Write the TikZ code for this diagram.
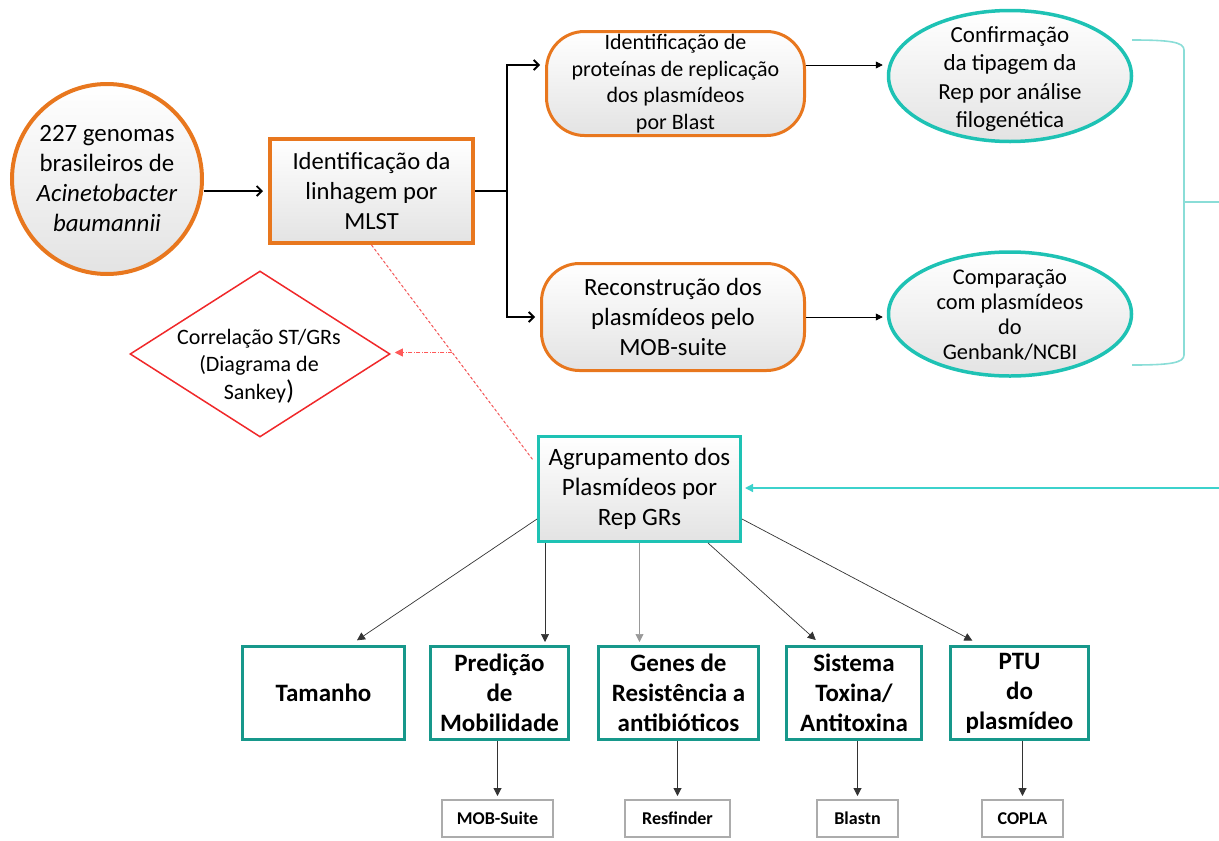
\documentclass[tikz,border=0pt]{standalone}
\usepackage{fontspec}
\setmainfont{Carlito}
\usetikzlibrary{shapes.geometric,arrows.meta,calc}

\definecolor{ocre}{HTML}{E8771E}
\definecolor{tealB}{HTML}{1EC2B4}
\definecolor{tealD}{HTML}{17988B}
\definecolor{tealL}{HTML}{8ADDD7}
\definecolor{cyanA}{HTML}{3CD2CC}
\definecolor{redD}{HTML}{F0282A}

\newcommand\myfs[2]{\fontsize{#1}{#2}\selectfont}

\begin{document}
\begin{tikzpicture}[x=1pt,y=-1pt,
  grad/.style={top color=white,bottom color=black!11},
  orangebox/.style={draw=ocre,line width=4pt,grad,inner sep=0pt,align=center},
  roundbox/.style={draw=ocre,line width=3pt,grad,rounded corners=38pt,inner sep=0pt,align=center},
  tealell/.style={ellipse,draw=tealB,line width=3.5pt,grad,inner sep=0pt},
  resultbox/.style={draw=tealD,line width=3pt,fill=white,inner sep=0pt,align=center,
    font=\myfs{25}{30}\bfseries,minimum height=93pt},
  toolbox/.style={draw=gray!65,line width=2pt,fill=white,inner sep=0pt,
    minimum height=37pt,font=\myfs{18}{20}\bfseries},
  mainarrow/.style={line width=1.8pt,-{Straight Barb[length=5pt,width=10pt]},shorten >=5pt},
  fineArrow/.style={line width=0.8pt,-{Triangle[length=7pt,width=7pt]},shorten >=4pt},
  fan/.style={line width=0.7pt,draw=black!80,-{Triangle[length=8pt,width=8pt]},shorten >=3pt}
]

\useasboundingbox (0,0) rectangle (1219,841);

% --- input and lineage ---
\node[circle,draw=ocre,line width=4pt,grad,minimum size=190pt,inner sep=0pt,align=center,
      font=\myfs{24.9}{30}] (genomes) at (107,179)
  {227 genomas\\brasileiros de\\\textit{Acinetobacter}\\\textit{baumannii}};
\node[orangebox,minimum width=203pt,minimum height=104pt,font=\myfs{24.6}{30}] (mlst) at (371.5,191)
  {Identificação da\\linhagem por\\MLST};

% --- plasmid branches ---
\node[roundbox,minimum width=258pt,minimum height=104pt,font=\myfs{22}{26.5}] (blast) at (675.5,83.5)
  {Identificação de\\proteínas de replicação\\dos plasmídeos\\por Blast};
\node[roundbox,minimum width=263pt,minimum height=107pt,font=\myfs{24.8}{30}] (mobrec) at (673,317)
  {Reconstrução dos\\plasmídeos pelo\\MOB-suite};

\node[tealell,minimum width=243pt,minimum height=131pt] (confirm) at (1010,76) {};
\node[align=center,font=\myfs{23}{28.5}] at (1010,79)
  {Confirmação\\da tipagem da\\Rep por análise\\filogenética};
\node[tealell,minimum width=243pt,minimum height=124pt] (compare) at (1010,314) {};
\node[align=center,font=\myfs{22.4}{25}] at (1010,315)
  {Comparação\\com plasmídeos\\do\\Genbank/NCBI};

% --- ST / GR correlation ---
\node[diamond,draw=redD,line width=1.5pt,fill=white,minimum width=260pt,minimum height=166pt,
      inner sep=0pt] (sankey) at (260,354) {};
\node[align=center,font=\myfs{22}{27.5}] at (259,366)
  {Correlação ST/GRs\\(Diagrama de\\Sankey{\myfs{27}{27.5})}};

% --- grouping ---
\node[draw=tealB,line width=3pt,grad,minimum width=202pt,minimum height=105pt,align=center,
      inner sep=0pt,font=\myfs{25}{30}] (agr) at (639.5,489)
  {Agrupamento dos\\Plasmídeos por\\Rep GRs};

% --- characterisation ---
\node[resultbox,minimum width=162pt] (tam) at (323.5,693) {Tamanho};
\node[resultbox,minimum width=138pt] (pred) at (499.5,693) {Predição\\de\\Mobilidade};
\node[resultbox,minimum width=160pt] (genes) at (678.5,693) {Genes de\\Resistência a\\antibióticos};
\node[resultbox,minimum width=135pt] (sist) at (854,693) {Sistema\\Toxina/\\Antitoxina};
\node[resultbox,minimum width=138pt] (ptu) at (1019.5,693) {PTU\\do\\plasmídeo};

% --- tools ---
\node[toolbox,minimum width=111pt] (mobs) at (497.5,818.5) {MOB-Suite};
\node[toolbox,minimum width=105pt] (resf) at (677.5,818.5) {Resfinder};
\node[toolbox,minimum width=81pt] (blastn) at (857.5,818.5) {Blastn};
\node[toolbox,minimum width=81pt] (copla) at (1022.5,818.5) {COPLA};

% --- connectors ---
\draw[mainarrow] (genomes.east |- mlst.west) -- (mlst.west);
\draw[line width=1.8pt] (mlst.east) -- ++(32pt,0pt) coordinate (fork);
\draw[mainarrow] (fork) |- ($(blast.west)+(0pt,18.5pt)$);
\draw[mainarrow] (fork) |- (mobrec.west);

\draw[fineArrow] ($(blast.east)+(0pt,18.5pt)$) coordinate (b1) -- (b1 -| confirm.west);
\draw[fineArrow] (mobrec.east) -- (mobrec.east -| compare.west);

% bracket gathering both analyses
\draw[tealL,line width=1.6pt] (1132,40) .. controls (1170,40) and (1184,42) .. (1184,50)
  -- (1184,355) .. controls (1184,363) and (1170,365) .. (1132,365);
\draw[tealL,line width=1.6pt] (1184,202) -- (1219,202);
\coordinate (rin) at (1219,488);
\draw[cyanA,line width=1.3pt,-{Triangle[length=8pt,width=8pt]},shorten >=3pt] (rin) -- (rin -| agr.east);

% lineage vs replicon groups
\draw[redD!85,line width=0.9pt,dash pattern=on 3pt off 2pt]
  (mlst.south) -- coordinate[pos=0.5] (dmid) ($(agr.north west)+(-4pt,-25pt)$);
\draw[red!65,line width=0.9pt,dash pattern=on 4pt off 1.5pt on 1pt off 1.5pt,
      -{Triangle[length=8pt,width=8pt]},shorten >=4pt] (dmid) -- (dmid -| sankey.east);

% fan-out to characterisation
\draw[fan] ($(agr.south west)+(0pt,24pt)$) -- ($(tam.north)+(31pt,3pt)$);
\draw[fan] ($(agr.south west)+(8pt,0pt)$) coordinate (f2) -- (f2 |- pred.north);
\draw[fan,draw=black!40] (agr.south) -- (agr.south |- genes.north);
\draw[fan] ($(agr.south east)+(-34pt,0pt)$) -- ($(sist.north)+(-36pt,3pt)$);
\draw[fan] ($(agr.south east)+(0pt,24pt)$) -- ($(ptu.north)+(-44.5pt,3pt)$);

% tools
\draw[fan,line width=1pt] (pred.south -| mobs.north) -- (mobs.north);
\draw[fan,line width=1pt] (genes.south -| resf.north) -- (resf.north);
\draw[fan,line width=1pt] (sist.south -| blastn.north) -- (blastn.north);
\draw[fan,line width=1pt] (ptu.south -| copla.north) -- (copla.north);

\end{tikzpicture}
\end{document}
